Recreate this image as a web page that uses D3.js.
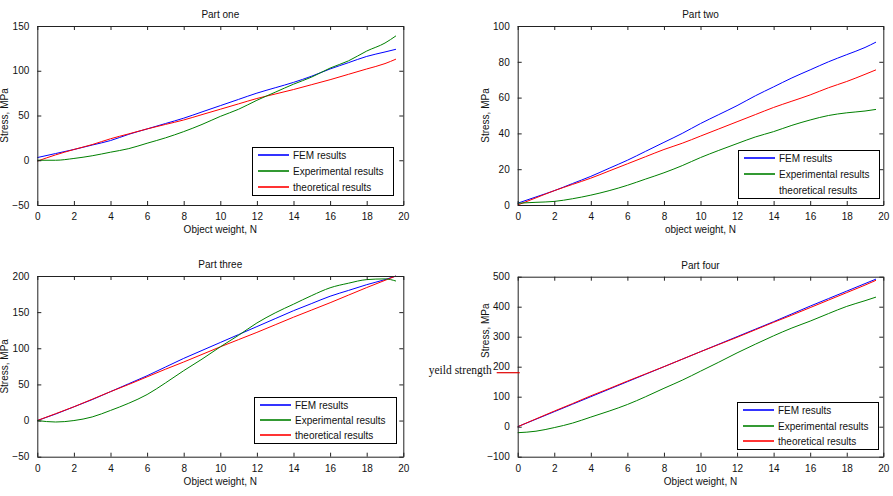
<!DOCTYPE html>
<html>
<head>
<meta charset="utf-8">
<script src="https://cdn.jsdelivr.net/npm/d3@7"></script>
<style>
  html, body { margin: 0; padding: 0; background: #fff; }
  svg { display: block; }
  text { font-family: "Liberation Sans", Arial, sans-serif; fill: #111; }
</style>
</head>
<body>
<svg id="chart" width="893" height="496"></svg>
<script>
// ---------- DATA ----------
const weights = [0,1,2,3,4,5,6,7,8,9,10,11,12,13,14,15,16,17,18,19,19.6];
const xTicks = [0,2,4,6,8,10,12,14,16,18,20];
const seriesNames = ["FEM results", "Experimental results", "theoretical results"];
const seriesColors = ["#0000ff", "#008000", "#ff0000"];

const titles = ["Part one", "Part two", "Part three", "Part four"];
const xLabels = ["Object weight, N", "object weight, N", "Object weight, N", "Object weight, N"];
const yLabel = "Stress, MPa";

const p1FEM  = [3,7.5,12,17,22,29,35,41,47,54,61,68,75,81,87,94,102,109,116,121,124];
const p1Exp  = [0,0,2,5,9,13,19,25,32,40,49,57,67,76,85,93,103,111,122,131,139];
const p1Theo = [-1,6,12,17.5,24,29.5,35,40,45,51,57,63,69,74,79,84.5,90,96,102,108,113];
const p1Ticks = [-50,0,50,100,150];

const p2FEM  = [1,4.5,8,12,16,20.5,25,30,35,40,45.5,50.5,55.5,61,66,71,75.5,80,84,88,91];
const p2Exp  = [1,1.5,2,3.5,5.5,8,11,14.5,18,22,26.5,30.5,34.3,38,41,44.5,47.5,50,51.5,52.5,53.4];
const p2Theo = [0,4,8,11.5,15,19,23,27,31,34.5,38.5,42.5,46.5,50.5,54.5,58,61.5,65.5,69,73,75.5];
const p2Ticks = [0,20,40,60,80,100];

const p3FEM  = [0,9,19,29,40,51,62,74,86,97,108,119,130,141,152,162,172,180,188,195,200];
const p3Exp  = [0,-2,0,5,14,24,36,52,69,85,102,118,135,149,161,173,183.7,190,195,196,193];
const p3Theo = [0,9.5,19,29.5,40,50,60.5,71,81,91.5,102,112,122,132.5,143,153,163,173.5,184,194,200];
const p3Ticks = [-50,0,50,100,150,200];

const p4FEM  = [0,25,50,75,100,125,150,175,200,225,250,275,300,325,350,376,402,427,452,477,492];
const p4Exp  = [-20,-15,-3,12,32,52,74,100,128,155,185,215,246,275,303,329,352,377,401,420,432];
const p4Theo = [0,26,52,77,103,127,152,176,200,225,250,274,298,323,348,372,397,422,447,472,488];
const p4Ticks = [-100,0,100,200,300,400,500];

const yieldStrength = 180;
const yieldLabel = "yeild strength";

// ---------- LAYOUT ----------
const panels = [
  { title: titles[0], xLabel: xLabels[0], series: [p1FEM, p1Exp, p1Theo], yTicks: p1Ticks,
    box: {l: 37.3, r: 403.3, t: 26, b: 205}, legend: {x: 252, y: 147, w: 141, h: 48}, legendLines: [true,true,true], yLabelDy: 0 },
  { title: titles[1], xLabel: xLabels[1], series: [p2FEM, p2Exp, p2Theo], yTicks: p2Ticks,
    box: {l: 517.7, r: 883.3, t: 26, b: 205}, legend: {x: 738, y: 150, w: 141, h: 48}, legendLines: [true,true,false], yLabelDy: 0 },
  { title: titles[2], xLabel: xLabels[2], series: [p3FEM, p3Exp, p3Theo], yTicks: p3Ticks,
    box: {l: 37.3, r: 403.3, t: 276, b: 456.7}, legend: {x: 254, y: 397, w: 142, h: 46}, legendLines: [true,true,true], yLabelDy: 0 },
  { title: titles[3], xLabel: xLabels[3], series: [p4FEM, p4Exp, p4Theo], yTicks: p4Ticks,
    box: {l: 517.7, r: 883.3, t: 276.7, b: 456.7}, legend: {x: 737, y: 402, w: 141, h: 47}, legendLines: [true,true,true],
    yieldLine: true, yLabelDy: -36 }
];

const svg = d3.select("#chart");
const tickLen = 4;
const fs = 10;

panels.forEach((p) => {
  const {l, r, t, b} = p.box;
  const x = d3.scaleLinear().domain([0, 20]).range([l, r]);
  const yDom = d3.extent(p.yTicks);
  const y = d3.scaleLinear().domain(yDom).range([b, t]);
  const g = svg.append("g");

  const line = d3.line().x((d, i) => x(weights[i])).y(d => y(d)).curve(d3.curveMonotoneX);
  [0, 2, 1].forEach(si => {
    g.append("path")
      .datum(p.series[si])
      .attr("d", line)
      .attr("fill", "none")
      .attr("stroke", seriesColors[si])
      .attr("stroke-width", 1);
  });

  const axB = d3.axisBottom(x).tickValues(xTicks).tickSizeInner(-tickLen).tickSizeOuter(0).tickPadding(8).tickFormat(d3.format("d"));
  const axT = d3.axisTop(x).tickValues(xTicks).tickSizeInner(-tickLen).tickSizeOuter(0).tickFormat("");
  const axL = d3.axisLeft(y).tickValues(p.yTicks).tickSizeInner(-tickLen).tickSizeOuter(0).tickPadding(8).tickFormat(d3.format("d"));
  const axR = d3.axisRight(y).tickValues(p.yTicks).tickSizeInner(-tickLen).tickSizeOuter(0).tickFormat("");

  const styleAxis = (sel) => {
    sel.select(".domain").attr("stroke", "#222").attr("stroke-width", 1);
    sel.selectAll(".tick line").attr("stroke", "#222");
    sel.selectAll(".tick text").attr("font-size", fs).attr("fill", "#111")
       .attr("font-family", "'Liberation Sans', Arial, sans-serif");
  };
  g.append("g").attr("transform", `translate(0,${b})`).call(axB).call(styleAxis);
  g.append("g").attr("transform", `translate(0,${t})`).call(axT).call(styleAxis);
  g.append("g").attr("transform", `translate(${l},0)`).call(axL).call(styleAxis);
  g.append("g").attr("transform", `translate(${r},0)`).call(axR).call(styleAxis);

  g.append("text").attr("x", (l + r) / 2).attr("y", t - 8)
    .attr("text-anchor", "middle").attr("font-size", fs).text(p.title);
  g.append("text").attr("x", (l + r) / 2).attr("y", b + 28)
    .attr("text-anchor", "middle").attr("font-size", fs).text(p.xLabel);
  g.append("text")
    .attr("transform", `translate(${l - 29},${(t + b) / 2 + p.yLabelDy}) rotate(-90)`)
    .attr("text-anchor", "middle").attr("font-size", fs).text(yLabel);

  // legend
  const lg = p.legend;
  g.append("rect").attr("x", lg.x + 0.5).attr("y", lg.y + 0.5).attr("width", lg.w).attr("height", lg.h)
    .attr("fill", "#fff").attr("stroke", "#000").attr("stroke-width", 1);
  const rowH = lg.h / 3;
  seriesNames.forEach((name, i) => {
    const cy = Math.round(lg.y + rowH * (i + 0.5));
    if (p.legendLines[i]) {
      g.append("line").attr("x1", lg.x + 6).attr("x2", lg.x + 37).attr("y1", cy).attr("y2", cy)
        .attr("stroke", seriesColors[i]).attr("stroke-width", 1.6);
    }
    g.append("text").attr("x", lg.x + 41).attr("y", cy + 4).attr("font-size", fs).text(name);
  });

  if (p.yieldLine) {
    const yy = y(yieldStrength);
    g.append("line").attr("x1", l - 21).attr("x2", l + 2).attr("y1", yy).attr("y2", yy)
      .attr("stroke", "#e00000").attr("stroke-width", 1.2);
    g.append("text").attr("x", l - 26).attr("y", yy + 1)
      .attr("text-anchor", "end").attr("font-size", 11.5)
      .style("font-family", "'Liberation Serif', 'Times New Roman', serif")
      .text(yieldLabel);
  }
});
</script>
</body>
</html>
